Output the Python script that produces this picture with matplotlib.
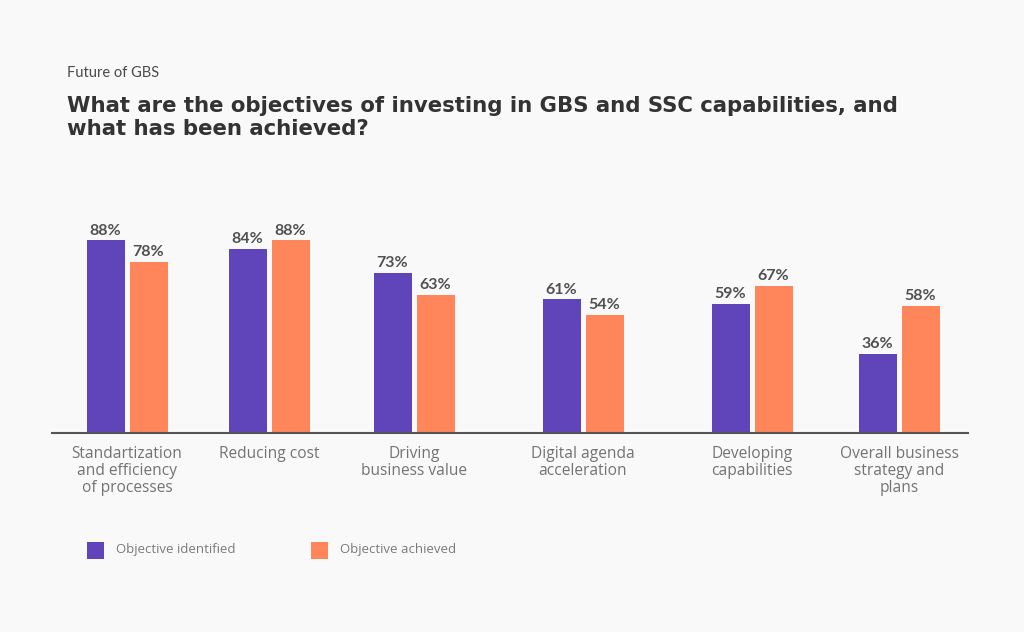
import matplotlib
matplotlib.use("Agg")
import matplotlib.pyplot as plt
from matplotlib.patches import Rectangle

categories = ["Standartization\nand efficiency\nof processes", "Reducing cost", "Driving\nbusiness value",
              "Digital agenda\nacceleration", "Developing\ncapabilities", "Overall business\nstrategy and\nplans"]
identified = [88, 84, 73, 61, 59, 36]
achieved = [78, 88, 63, 54, 67, 58]
series_names = ["Objective identified", "Objective achieved"]

# layout (pixel-based group centres)
group_x = [127, 269, 414, 583, 752, 899]
bar_w = 38
gap = 5

W, H = 1024, 632
BG = "#f9f9f9"
PURPLE = "#6044b9"
ORANGE = "#ff855a"

fig = plt.figure(figsize=(W / 100, H / 100), dpi=100, facecolor=BG)

ax_left, ax_right = 52, 968
ax_bottom, ax_top = 433, 200
ax = fig.add_axes([ax_left / W, 1 - ax_bottom / H, (ax_right - ax_left) / W, (ax_bottom - ax_top) / H])
ax.set_facecolor(BG)
ax.set_xlim(ax_left, ax_right)
px_per_pct = 2.19
ax.set_ylim(0, (ax_bottom - ax_top) / px_per_pct)

off = (bar_w + gap) / 2
b1 = ax.bar([x - off for x in group_x], identified, width=bar_w, color=PURPLE, zorder=2)
b2 = ax.bar([x + off for x in group_x], achieved, width=bar_w, color=ORANGE, zorder=2)

for bars, vals in ((b1, identified), (b2, achieved)):
    for b, v in zip(bars, vals):
        ax.annotate(f"{v}%", (b.get_x() + b.get_width() / 2, v), xytext=(0, 2),
                    textcoords="offset points", ha="center", va="bottom",
                    fontsize=11.5, fontweight="bold", color="#505050", family="Lato")

for s in ["top", "right", "left"]:
    ax.spines[s].set_visible(False)
ax.spines["bottom"].set_color("#555555")
ax.spines["bottom"].set_linewidth(1.5)
ax.set_yticks([])
ax.set_xticks(group_x)
ax.set_xticklabels(categories, fontsize=11.2, color="#737373", family="Open Sans", linespacing=1.1)
ax.tick_params(axis="x", length=0, pad=9)

fig.text(67 / W, 1 - 73 / H, "Future of GBS", fontsize=10.5, color="#4a4a4a", family="Lato",
         va="center", ha="left")
fig.text(67 / W, 1 - 96 / H, "What are the objectives of investing in GBS and SSC capabilities, and\nwhat has been achieved?",
         fontsize=15.3, fontweight="bold", color="#333333", family="DejaVu Sans", va="top", ha="left",
         linespacing=1.2)

# legend
for (lx, col, name) in ((87, PURPLE, series_names[0]), (311, ORANGE, series_names[1])):
    fig.patches.append(Rectangle((lx / W, 1 - 559 / H), 17 / W, 17 / H, transform=fig.transFigure,
                                 facecolor=col, edgecolor="none"))
    fig.text((lx + 29) / W, 1 - 550 / H, name, fontsize=9.5, color="#7a7a7a", family="Open Sans",
             va="center", ha="left")

fig.savefig("out.png", dpi=100, facecolor=BG)
